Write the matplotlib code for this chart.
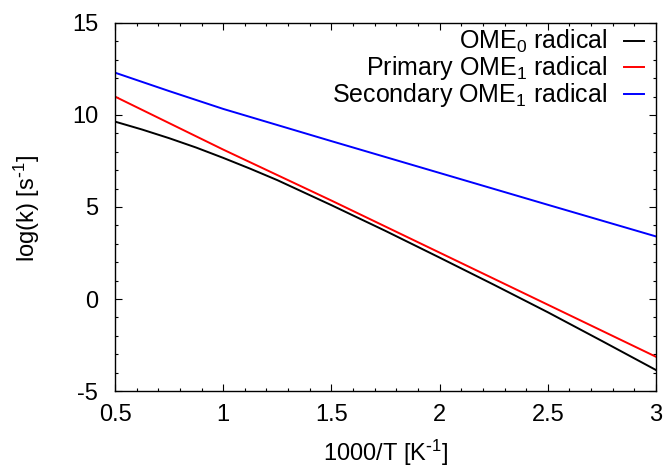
import matplotlib
matplotlib.use("Agg")
import matplotlib.pyplot as plt
from matplotlib.ticker import MultipleLocator

plt.rcParams['font.family'] = ['Liberation Sans', 'DejaVu Sans']
plt.rcParams['mathtext.default'] = 'regular'
plt.rcParams['axes.unicode_minus'] = False
plt.rcParams['font.size'] = 17

# values (x = 1000/T, y = log k)
x_ome0 = [0.5, 0.625, 0.75, 0.875, 1.0, 1.125, 1.25, 1.5, 1.75, 2.0, 2.25, 2.5, 2.75, 3.0]
y_ome0 = [9.64, 9.21, 8.74, 8.23, 7.67, 7.08, 6.46, 5.10, 3.70, 2.25, 0.78, -0.72, -2.28, -3.86]

x_prim = [0.5, 1.0, 1.5, 2.0, 2.5, 3.0]
y_prim = [11.0, 8.12, 5.35, 2.52, -0.31, -3.14]

x_sec = [0.5, 0.75, 1.0, 1.5, 2.0, 2.5, 3.0]
y_sec = [12.3, 11.3, 10.33, 8.58, 6.85, 5.12, 3.40]

labels = ['OME$_0$ radical', 'Primary OME$_1$ radical', 'Secondary OME$_1$ radical']
colors = ['black', '#ff0000', '#0000ff']

fig = plt.figure(figsize=(6.69, 4.68), dpi=100)
ax = fig.add_axes([0.1719, 0.1645, 0.8087, 0.7864])

ax.plot(x_ome0, y_ome0, color=colors[0], lw=1.4, label=labels[0])
ax.plot(x_prim, y_prim, color=colors[1], lw=1.4, label=labels[1])
ax.plot(x_sec, y_sec, color=colors[2], lw=1.4, label=labels[2])

ax.set_xlim(0.5, 3)
ax.set_ylim(-5, 15)
ax.xaxis.set_minor_locator(MultipleLocator(0.1))
ax.yaxis.set_major_locator(MultipleLocator(5))
ax.yaxis.set_minor_locator(MultipleLocator(1))
ax.set_xticks([0.5, 1, 1.5, 2, 2.5, 3])
ax.set_xticklabels(['0.5', '1', '1.5', '2', '2.5', '3'])

ax.tick_params(which='both', direction='in', top=True, right=True, width=0.8)
ax.tick_params(which='major', length=5)
ax.tick_params(which='minor', length=2.5)
ax.tick_params(axis='x', which='major', pad=9)
ax.tick_params(axis='y', which='major', pad=12)
for s in ax.spines.values():
    s.set_linewidth(1.0)

ax.set_xlabel(r'1000/T [K$^{\text{-}1}$]', va='center')
ax.set_ylabel(r'log(k) [s$^{\text{-}1}$]', va='center')
ax.xaxis.set_label_coords(0.5, -0.168)
ax.yaxis.set_label_coords(-0.163, 0.497)

ax.legend(loc='upper right', bbox_to_anchor=(0.991, 1.006), frameon=False,
          markerfirst=False, fontsize=18, handlelength=0.8, handletextpad=0.65,
          labelspacing=-0.04, borderaxespad=0.1, borderpad=0.2)

fig.savefig('out.png', dpi=100)
